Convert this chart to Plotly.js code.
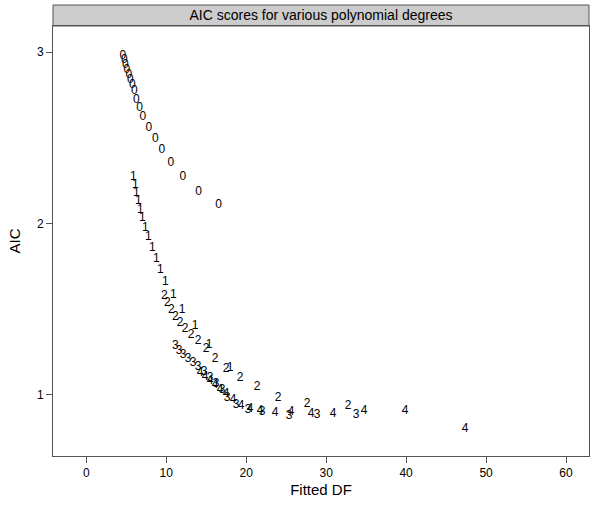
<!DOCTYPE html>
<html>
<head>
<meta charset="utf-8">
<script src="https://cdn.plot.ly/plotly-3.0.1.min.js"></script>
<style>
  html, body { margin: 0; padding: 0; background: #ffffff; }
  #chart { width: 591px; height: 507px; }
</style>
</head>
<body>
<div id="chart"></div>
<script>
// Degree labels
const degreeLabels = ["0", "1", "2", "3", "4"];

// Degree 0
const df0 = [4.59, 4.75, 4.88, 5.09, 5.34, 5.5, 5.75, 6.0, 6.25, 6.66, 7.09, 7.84, 8.63, 9.46, 10.59, 12.09, 14.04, 16.54];
const aic0 = [2.979, 2.952, 2.926, 2.897, 2.868, 2.839, 2.809, 2.771, 2.722, 2.674, 2.621, 2.557, 2.493, 2.430, 2.356, 2.274, 2.187, 2.109];

// Degree 1
const df1 = [5.875, 6.125, 6.25, 6.5, 6.75, 7.0, 7.375, 7.75, 8.25, 8.75, 9.25, 9.875, 10.875, 12.0, 13.625, 15.375, 18.0];
const aic1 = [2.273, 2.226, 2.179, 2.133, 2.080, 2.033, 1.975, 1.922, 1.858, 1.794, 1.730, 1.660, 1.584, 1.496, 1.403, 1.292, 1.158];

// Degree 2
const df2 = [9.75, 10.125, 10.625, 11.125, 11.75, 12.375, 13.125, 14.0, 15.0, 16.125, 17.5, 19.25, 21.375, 24.0, 27.625, 32.75];
const aic2 = [1.578, 1.537, 1.496, 1.455, 1.420, 1.385, 1.350, 1.315, 1.269, 1.210, 1.152, 1.099, 1.047, 0.982, 0.947, 0.936];

// Degree 3
const df3 = [11.125, 11.625, 12.125, 12.75, 13.375, 14.0, 14.75, 15.5, 16.25, 17.0, 17.625, 18.75, 20.25, 22.0, 25.375, 28.875, 33.75];
const aic3 = [1.286, 1.257, 1.234, 1.210, 1.187, 1.163, 1.134, 1.099, 1.064, 1.029, 0.982, 0.942, 0.912, 0.901, 0.877, 0.883, 0.883];

// Degree 4
const df4 = [14.25, 14.875, 15.5, 16.125, 16.75, 17.5, 18.375, 19.375, 20.5, 21.75, 23.625, 25.625, 28.125, 30.875, 34.75, 39.875, 47.375];
const aic4 = [1.128, 1.105, 1.082, 1.058, 1.029, 1.006, 0.971, 0.936, 0.918, 0.907, 0.895, 0.901, 0.889, 0.889, 0.907, 0.907, 0.802];

// Axis ticks
const xTicks = [0, 10, 20, 30, 40, 50, 60];
const yTicks = [1, 2, 3];

const series = [[df0, aic0], [df1, aic1], [df2, aic2], [df3, aic3], [df4, aic4]];
const FONT = "Liberation Sans, Arial, Helvetica, sans-serif";

const traces = series.map(function (s, i) {
  return {
    type: "scatter",
    mode: "text",
    x: s[0],
    y: s[1],
    text: s[0].map(function () { return degreeLabels[i]; }),
    textposition: "middle center",
    textfont: { family: FONT, size: 12, color: "#000000" },
    showlegend: false,
    hoverinfo: "x+y"
  };
});

const axisCommon = {
  showgrid: false,
  zeroline: false,
  showline: true,
  linecolor: "#555555",
  linewidth: 1,
  mirror: true,
  ticks: "outside",
  ticklen: 6,
  tickwidth: 1,
  tickcolor: "#555555",
  tickfont: { family: FONT, size: 12, color: "#000000" }
};

const layout = {
  width: 591,
  height: 507,
  margin: { l: 53, r: 2, t: 26, b: 51 },
  paper_bgcolor: "#ffffff",
  plot_bgcolor: "#ffffff",
  font: { family: FONT, color: "#000000" },
  title: {
    text: "AIC scores for various polynomial degrees",
    font: { family: FONT, size: 14, color: "#000000" },
    xref: "paper",
    x: 0.5,
    xanchor: "center",
    yref: "container",
    y: 1 - 15.5 / 507,
    yanchor: "middle"
  },
  xaxis: Object.assign({}, axisCommon, {
    range: [-4.16, 62.875],
    tickvals: xTicks,
    ticktext: xTicks.map(String),
    title: { text: "Fitted DF", font: { family: FONT, size: 15, color: "#000000" }, standoff: 5 }
  }),
  yaxis: Object.assign({}, axisCommon, {
    range: [0.644, 3.153],
    tickvals: yTicks,
    ticktext: yTicks.map(String),
    title: { text: "AIC", font: { family: FONT, size: 15, color: "#000000" }, standoff: 12 }
  }),
  shapes: [{
    type: "rect",
    xref: "paper",
    yref: "paper",
    x0: 0,
    x1: 1,
    y0: 1,
    y1: 1 + 21 / 430,
    fillcolor: "#cccccc",
    line: { color: "#555555", width: 1 },
    layer: "below"
  }]
};

Plotly.newPlot("chart", traces, layout, { staticPlot: true, displayModeBar: false });
</script>
</body>
</html>
